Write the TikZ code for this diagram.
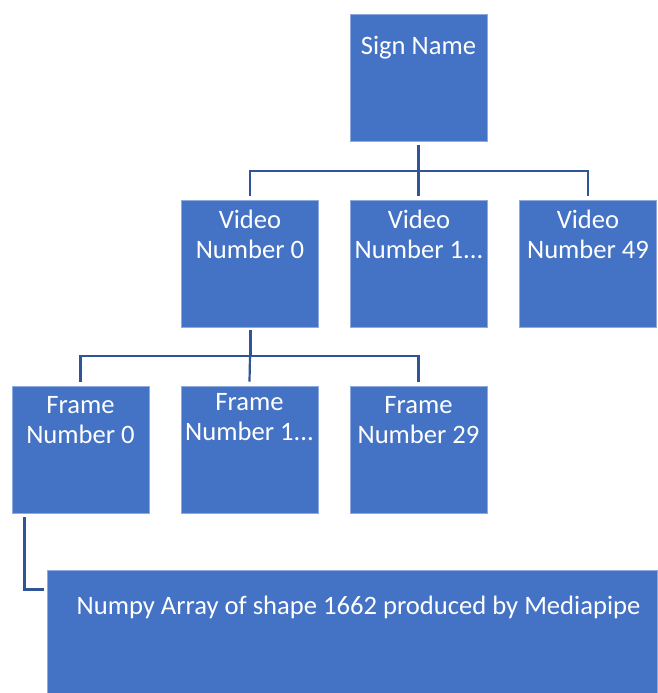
\documentclass[tikz,border=0pt]{standalone}
\usepackage{fontspec}
\setmainfont{Carlito}
\definecolor{boxblue}{RGB}{68,114,196}
\definecolor{edgeblue}{RGB}{143,170,220}
\definecolor{linkblue}{RGB}{47,85,151}
\begin{document}
\begin{tikzpicture}[x=1pt,y=-1pt,
  box/.style={draw=edgeblue,line width=0.6pt,fill=boxblue,rectangle,inner sep=0pt,minimum width=137pt,minimum height=127pt},
  lbl/.style={text=white,align=center,font=\fontsize{26.6}{30}\selectfont,inner sep=0pt},
  link/.style={draw=linkblue,line width=2.2pt},
  trunk/.style={draw=linkblue,line width=3pt}]
\useasboundingbox (0,0) rectangle (657,693);
% boxes
\node[box] (sign) at (418.5,77.5) {};
\node[box] (v0) at (250,263.5) {};
\node[box] (v1) at (418.5,263.5) {};
\node[box] (v49) at (588,263.5) {};
\node[box] (f0) at (80.5,449.5) {};
\node[box] (f1) at (249.5,449.5) {};
\node[box] (f29) at (418.5,449.5) {};
\node[box,minimum width=610pt,minimum height=123pt] (np) at (352,632) {};
% labels
\node[lbl] (tsign) at (418.5,48) {Sign Name};
\node[lbl] (tv0) at (250,234) {Video\\Number 0};
\node[lbl] (tv1) at (419,234) {Video\\Number 1...};
\node[lbl] (tv49) at (588,234) {Video\\Number 49};
\node[lbl] (tf0) at (80.5,420.5) {Frame\\Number 0};
\node[lbl] (tf1) at (249.5,417) {Frame\\Number 1...};
\node[lbl] (tf29) at (418.5,420.5) {Frame\\Number 29};
\node[lbl] (tnp) at (358.5,607) {Numpy Array of shape 1662 produced by Mediapipe};
% connectors level 1
\coordinate (b1) at ([yshift=-30pt]sign.south);
\draw[trunk] ([yshift=-4pt]sign.south) -- (b1);
\draw[link] (b1) -| ([yshift=4pt]v0.north);
\draw[link] (b1) -| ([yshift=4pt]v49.north);
\draw[link] (b1) -- ([yshift=4pt]v1.north);
% connectors level 2
\coordinate (b2) at ([yshift=-29pt]v0.south);
\draw[trunk] ([yshift=-3pt]v0.south) -- (b2);
\draw[link] (b2) -| ([yshift=4pt]f0.north);
\draw[link] (b2) -| ([yshift=4pt]f29.north);
\draw[link] (b2) -- ([yshift=4pt]f1.north);
% frame to numpy
\coordinate (c0) at ([xshift=-56pt,yshift=-4pt]f0.south);
\coordinate (c1) at (c0 |- tnp.south);
\draw[link] (c0) -- ([yshift=29pt]c1) -- ([xshift=-3pt,yshift=29pt]c1 -| np.west);
\end{tikzpicture}
\end{document}
